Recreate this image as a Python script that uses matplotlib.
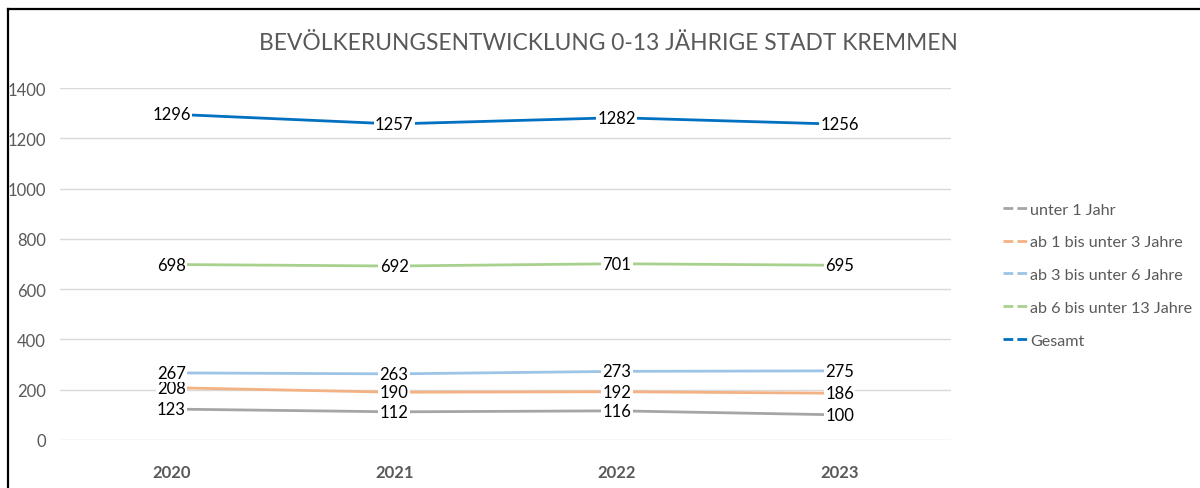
import matplotlib
matplotlib.use("Agg")
import matplotlib.pyplot as plt
from matplotlib.lines import Line2D

plt.rcParams['font.family'] = ['Lato', 'DejaVu Sans']

years = ["2020", "2021", "2022", "2023"]
series_names = ["unter 1 Jahr", "ab 1 bis unter 3 Jahre", "ab 3 bis unter 6 Jahre",
                "ab 6 bis unter 13 Jahre", "Gesamt"]
unter1 = [123, 112, 116, 100]
ab1bis3 = [208, 190, 192, 186]
ab3bis6 = [267, 263, 273, 275]
ab6bis13 = [698, 692, 701, 695]
gesamt = [1296, 1257, 1282, 1256]
colors = ["#A5A5A5", "#F4B183", "#9DC3E6", "#A9D18E", "#0070C0"]
yticks = [0, 200, 400, 600, 800, 1000, 1200, 1400]
title = "BEVÖLKERUNGSENTWICKLUNG 0-13 JÄHRIGE STADT KREMMEN"

data = [unter1, ab1bis3, ab3bis6, ab6bis13, gesamt]

fig = plt.figure(figsize=(12, 4.89), dpi=100)
ax = fig.add_axes([60/1200, 1 - 441/489, (951-60)/1200, (441-89)/489])
x = list(range(len(years)))
ax.set_xlim(-0.5, 3.5)
ax.set_ylim(0, 1400)

for vals, c in zip(data, colors):
    ax.plot(x, vals, color=c, lw=2.0, solid_capstyle='butt', zorder=3)
    for xi, v in zip(x, vals):
        ax.text(xi, v, str(v), ha='center', va='center', fontsize=12, color='#000000',
                zorder=5, bbox=dict(facecolor='white', edgecolor='none', pad=1.0))

ax.set_yticks(yticks)
ax.set_yticklabels([str(t) for t in yticks], fontsize=12, color='#595959')
ax.set_xticks(x)
ax.set_xticklabels(years, fontsize=12, color='#595959', fontweight='bold')
ax.tick_params(axis='both', length=0)
ax.tick_params(axis='y', pad=10)
ax.tick_params(axis='x', pad=17)
ax.grid(axis='y', color='#D9D9D9', lw=1.0, zorder=0)
for s in ax.spines.values():
    s.set_visible(False)

fig.text(608/1200, 1 - 43/489, title, ha='center', va='center', fontsize=16.4, color='#595959')

handles = [Line2D([0], [0], color=c, lw=2.0, linestyle=(0, (3.5, 1.5))) for c in colors]
fig.legend(handles, series_names, loc='center left', bbox_to_anchor=(988/1200, 1 - 276/489),
           frameon=False, fontsize=11.6, labelcolor='#595959', handlelength=1.6,
           handletextpad=0.1, labelspacing=1.15)

# outer frame (top and left edges)
fig.add_artist(Line2D([8/1200, 1], [1 - 9.5/489, 1 - 9.5/489], color='black', lw=1.6,
                      transform=fig.transFigure))
fig.add_artist(Line2D([8/1200, 8/1200], [0, 1 - 9.5/489], color='black', lw=1.6,
                      transform=fig.transFigure))

fig.savefig("out.png", dpi=100, facecolor='white')
